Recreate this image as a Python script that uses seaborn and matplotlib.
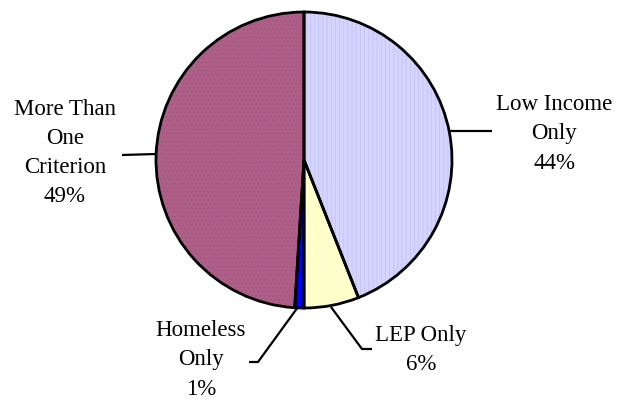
import matplotlib
matplotlib.use("Agg")
import matplotlib.pyplot as plt
import seaborn as sns

# data
categories = ["Low Income\nOnly", "LEP Only", "Homeless\nOnly", "More Than\nOne\nCriterion"]
shares = [44, 6, 1, 49]
colors = ["#D4D4FF", "#FFFFCC", "#0000FF", "#AE5F88"]
hatch_colors = ["#C4C4F4", "#FFFFCC", "#0000FF", "#A05680"]
hatches = ["||||", None, None, "...."]

sns.set_theme(style="white")
plt.rcParams['font.family'] = ['Liberation Serif', 'DejaVu Serif']
plt.rcParams['hatch.linewidth'] = 0.6

W, H = 619, 400
fig = plt.figure(figsize=(W / 100, H / 100), dpi=100)
ax = fig.add_axes([0, 0, 1, 1])

cx, cy, r = 304, H - 160, 148

# fill with subtle texture
wedges, _ = ax.pie(shares, colors=colors, startangle=90, counterclock=False,
                   center=(cx, cy), radius=r, frame=True,
                   wedgeprops=dict(linewidth=0))
for w, hc, h in zip(wedges, hatch_colors, hatches):
    if h:
        w.set_hatch(h)
        w.set_edgecolor(hc)
# outlines
ax.pie(shares, colors=["none"] * 4, startangle=90, counterclock=False,
       center=(cx, cy), radius=r, frame=True,
       wedgeprops=dict(linewidth=2, edgecolor="black", fill=False))
ax.set_xlim(0, W)
ax.set_ylim(0, H)
ax.axis("off")

# leader lines (pixel coords, y from top) and label anchors
leaders = [
    [(450, 131), (492, 131)],
    [(331, 307), (362, 349), (372, 349)],
    [(298, 307), (258, 362), (249, 362)],
    [(156, 154), (122, 155)],
]
anchors = [(554, 134), (421, 350), (201, 360), (65, 153)]

for name, val, pts, (tx, ty) in zip(categories, shares, leaders, anchors):
    xs = [p[0] for p in pts]
    ys = [H - p[1] for p in pts]
    ax.plot(xs, ys, color="black", lw=1.6, solid_capstyle="butt")
    ax.text(tx, H - ty, f"{name}\n{val}%", ha="center", va="center",
            fontsize=16.5, linespacing=1.52, color="black")

fig.savefig("out.png", dpi=100)
